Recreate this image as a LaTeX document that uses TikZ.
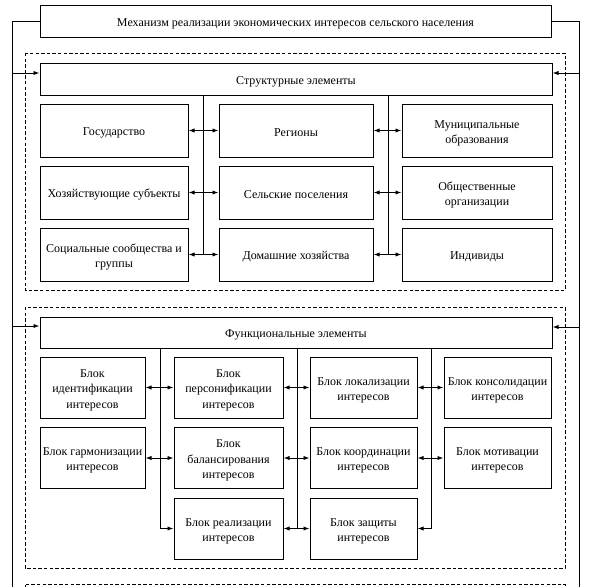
\documentclass[tikz,border=0pt]{standalone}
\usepackage{fontspec}
\setmainfont{Liberation Serif}
\usetikzlibrary{arrows.meta}
\newcommand{\lowr}{\rule{0pt}{9.8pt}}
\begin{document}
\begin{tikzpicture}[x=0.75pt,y=-0.75pt,
  every node/.style={font=\fontsize{9}{11.5}\selectfont},
  box/.style={draw,line width=0.75pt,rectangle,align=center,inner sep=1pt},
  frame/.style={draw,line width=0.7pt,dash pattern=on 2.6pt off 1.6pt},
  ln/.style={line width=0.7pt},
  arr/.style={ln,-{Latex[length=4.5pt,width=3.2pt]}},
  arrb/.style={ln,{Latex[length=4.5pt,width=3.2pt]}-{Latex[length=4.5pt,width=3.2pt]}}]
\useasboundingbox (0,0) rectangle (596,586);
\clip (0,0) rectangle (596,586);
% dashed frames
\draw[frame] (25,53) rectangle (565,290);
\draw[frame] (25,307) rectangle (565,568);
\draw[frame] (25,600) -- (25,584) -- (565,584) -- (565,600);
% top box
\node[box,minimum width=511*0.75pt,minimum height=32*0.75pt] (top) at (295.5,21) {\lowr Механизм реализации экономических интересов сельского населения};
% structural
\node[box,minimum width=512*0.75pt,minimum height=32*0.75pt] (sh) at (296,79) {\lowr Структурные элементы};
\tikzset{sc1/.style={box,minimum width=148*0.75pt,minimum height=53*0.75pt},
         sc2/.style={box,minimum width=154*0.75pt,minimum height=53*0.75pt},
         sc3/.style={box,minimum width=150*0.75pt,minimum height=53*0.75pt}}
\node[sc1] (s11) at (114,130.5) {\lowr Государство};
\node[sc2] (s12) at (296,130.5) {\lowr Регионы};
\node[sc3] (s13) at (477,130.5) {\lowr Муниципальные\\образования};
\node[sc1] (s21) at (114,192.5) {\lowr Хозяйствующие субъекты};
\node[sc2] (s22) at (296,192.5) {\lowr Сельские поселения};
\node[sc3] (s23) at (477,192.5) {\lowr Общественные\\организации};
\node[sc1] (s31) at (114,254.5) {\lowr Социальные сообщества и\\группы};
\node[sc2] (s32) at (296,254.5) {\lowr Домашние хозяйства};
\node[sc3] (s33) at (477,254.5) {\lowr Индивиды};
\coordinate (v1t) at (203,95);
\coordinate (v1b) at (203,254.5);
\coordinate (v2t) at (388,95);
\coordinate (v2b) at (388,254.5);
\draw[ln] (v1t) -- (v1b);
\draw[ln] (v2t) -- (v2b);
\foreach \r in {1,2,3}{
  \draw[arrb] (s\r1.east) -- (s\r2.west);
  \draw[arrb] (s\r2.east) -- (s\r3.west);
}
% functional
\node[box,minimum width=512*0.75pt,minimum height=31*0.75pt] (fh) at (296,332.5) {\lowr Функциональные элементы};
\tikzset{fc1/.style={box,minimum width=105*0.75pt,minimum height=61*0.75pt},
         fc2/.style={box,minimum width=109*0.75pt,minimum height=61*0.75pt},
         fc3/.style={box,minimum width=107*0.75pt,minimum height=61*0.75pt}}
\node[fc1] (f11) at (92.5,387.5) {\lowr Блок\\идентификации\\интересов};
\node[fc2] (f12) at (228.5,387.5) {\lowr Блок\\персонификации\\интересов};
\node[fc3] (f13) at (363.5,387.5) {\lowr Блок локализации\\интересов};
\node[fc3] (f14) at (497.5,387.5) {\lowr Блок консолидации\\интересов};
\node[fc1] (f21) at (92.5,458) {\lowr Блок гармонизации\\интересов};
\node[fc2] (f22) at (228.5,458) {\lowr Блок\\балансирования\\интересов};
\node[fc3] (f23) at (363.5,458) {\lowr Блок координации\\интересов};
\node[fc3] (f24) at (497.5,458) {\lowr Блок мотивации\\интересов};
\node[fc2] (f32) at (228.5,528.5) {\lowr Блок реализации\\интересов};
\node[fc3] (f33) at (363.5,528.5) {\lowr Блок защиты\\интересов};
\coordinate (vat) at (160,348);
\coordinate (vab) at (160,528.5);
\coordinate (vbt) at (297,348);
\coordinate (vbb) at (297,528.5);
\coordinate (vct) at (431,348);
\coordinate (vcb) at (431,528.5);
\draw[ln] (vbt) -- (vbb);
\draw[arr] (vat) -- (vab) -- (f32.west);
\draw[arr] (vct) -- (vcb) -- (f33.east);
\foreach \r in {1,2}{
  \draw[arrb] (f\r1.east) -- (f\r2.west);
  \draw[arrb] (f\r2.east) -- (f\r3.west);
  \draw[arrb] (f\r3.east) -- (f\r4.west);
}
\draw[arrb] (f32.east) -- (f33.west);
% outer lines
\coordinate (lt) at (12,21);
\coordinate (lb) at (12,590);
\coordinate (rt) at (579,21);
\coordinate (rb) at (579,590);
\draw[ln] (top.west) -- (lt) -- (lb);
\draw[ln] (top.east) -- (rt) -- (rb);
\coordinate (la1) at (12,73);
\coordinate (ra1) at (579,73);
\coordinate (la2) at (12,326);
\coordinate (ra2) at (579,327);
\draw[arr] (la1) -- (la1 -| sh.west);
\draw[arr] (ra1) -- (ra1 -| sh.east);
\draw[arr] (la2) -- (la2 -| fh.west);
\draw[arr] (ra2) -- (ra2 -| fh.east);
\end{tikzpicture}
\end{document}
